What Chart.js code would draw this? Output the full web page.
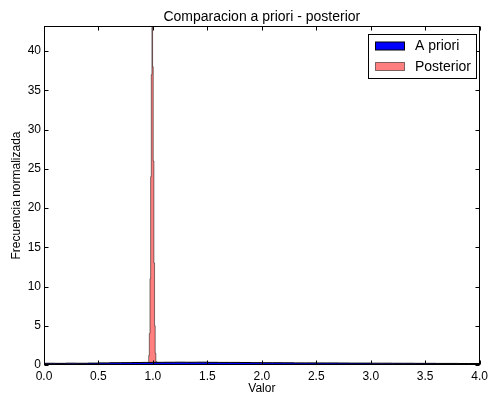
<!DOCTYPE html>
<html>
<head>
<meta charset="utf-8">
<script src="https://cdn.jsdelivr.net/npm/chart.js@4/dist/chart.umd.min.js"></script>
<style>
html, body { margin: 0; padding: 0; background: #fff; }
#wrap { width: 492px; height: 399px; }
</style>
</head>
<body>
<div id="wrap"><canvas id="chart"></canvas></div>
<script>
const chartTitle = "Comparacion a priori - posterior";
const xLabel = "Valor";
const yLabel = "Frecuencia normalizada";
const seriesNames = ["A priori", "Posterior"];

const xTicks = [0, 0.5, 1, 1.5, 2, 2.5, 3, 3.5, 4];
const yTicks = [0, 5, 10, 15, 20, 25, 30, 35, 40];
const yMax = 43.2;

// prior histogram, bins of 0.1 from 0 to 4
const priorStart = 0.0;
const priorWidth = 0.1;
const priorValues = [
    0.20, 0.22, 0.21, 0.23, 0.22, 0.24, 0.27, 0.29, 0.30, 0.32,
    0.33, 0.34, 0.35, 0.36, 0.35, 0.36, 0.34, 0.33, 0.33, 0.32,
    0.30, 0.29, 0.29, 0.28, 0.27, 0.27, 0.26, 0.26, 0.25, 0.24,
    0.24, 0.23, 0.23, 0.22, 0.22, 0.21, 0.21, 0.20, 0.20, 0.19
];

// posterior histogram, narrow bins around 1.0
const posteriorStart = 0.961;
const posteriorWidth = 0.006;
const posteriorValues = [0.3, 1.2, 4, 11, 24, 37, 43.2, 38, 26, 13, 5, 1.5, 0.4];

function histPoints(start, width, values) {
    const pts = [{ x: start, y: 0 }];
    values.forEach((v, i) => pts.push({ x: start + i * width, y: v }));
    const end = start + values.length * width;
    pts.push({ x: end, y: values[values.length - 1] });
    pts.push({ x: end, y: 0 });
    return pts;
}

const FONT = "'Liberation Sans', Arial, Helvetica, sans-serif";

const framePlugin = {
    id: 'frame',
    afterDraw(chart) {
        const ctx = chart.ctx;
        const a = chart.chartArea;
        const xs = chart.scales.x, ys = chart.scales.y;
        const L = Math.round(a.left) + 0.5, R = Math.round(a.right) - 0.5;
        const T = Math.round(a.top) + 0.5, B = Math.round(a.bottom) - 0.5;
        const tick = 4;

        ctx.save();
        ctx.strokeStyle = '#000';
        ctx.lineWidth = 1;
        ctx.beginPath();
        xTicks.forEach(v => {
            const px = Math.round(xs.getPixelForValue(v)) + 0.5;
            ctx.moveTo(px, B); ctx.lineTo(px, B - tick);
            ctx.moveTo(px, T); ctx.lineTo(px, T + tick);
        });
        yTicks.forEach(v => {
            const py = Math.round(ys.getPixelForValue(v)) + 0.5;
            ctx.moveTo(L, py); ctx.lineTo(L + tick, py);
            ctx.moveTo(R, py); ctx.lineTo(R - tick, py);
        });
        ctx.stroke();
        ctx.strokeRect(L, T, R - L, B - T);

        // title
        ctx.fillStyle = '#000';
        ctx.font = `14px ${FONT}`;
        ctx.textAlign = 'center';
        ctx.textBaseline = 'alphabetic';
        ctx.fillText(chartTitle, (a.left + a.right) / 2, 21);

        // legend
        const bx = 368.5, by = 34.5, bw = 108, bh = 44;
        ctx.fillStyle = '#fff';
        ctx.fillRect(bx, by, bw, bh);
        ctx.strokeStyle = '#000';
        ctx.strokeRect(bx, by, bw, bh);
        ctx.font = `14px ${FONT}`;
        ctx.textAlign = 'left';
        ctx.textBaseline = 'middle';
        chart.data.datasets.forEach((ds, i) => {
            const py = by + 7.5 + i * 20.5;
            ctx.fillStyle = '#fff';
            ctx.fillRect(375.5, py, 29, 8);
            ctx.fillStyle = ds.backgroundColor;
            ctx.fillRect(375.5, py, 29, 8);
            ctx.strokeStyle = ds.borderColor;
            ctx.strokeRect(375.5, py, 29, 8);
            ctx.fillStyle = '#000';
            ctx.fillText(ds.label, 415, py + 4.5);
        });
        ctx.restore();
    }
};

new Chart(document.getElementById('chart'), {
    type: 'line',
    data: {
        datasets: [
            {
                label: seriesNames[0],
                data: histPoints(priorStart, priorWidth, priorValues),
                backgroundColor: '#0000ff',
                borderColor: '#000',
                borderWidth: 1,
                fill: 'origin',
                stepped: 'after',
                pointRadius: 0
            },
            {
                label: seriesNames[1],
                data: histPoints(posteriorStart, posteriorWidth, posteriorValues),
                backgroundColor: 'rgba(255, 0, 0, 0.5)',
                borderColor: 'rgba(0, 0, 0, 0.5)',
                borderWidth: 1,
                fill: 'origin',
                stepped: 'after',
                pointRadius: 0
            }
        ]
    },
    options: {
        responsive: true,
        maintainAspectRatio: false,
        animation: false,
        layout: { padding: { top: 26, right: 9, left: 0, bottom: 0 } },
        plugins: {
            legend: { display: false },
            title: { display: false },
            tooltip: { enabled: false }
        },
        scales: {
            x: {
                type: 'linear',
                min: 0,
                max: 4,
                afterBuildTicks: s => { s.ticks = xTicks.map(v => ({ value: v })); },
                afterFit: s => { s.height = 34; },
                grid: { drawOnChartArea: false, drawTicks: false },
                border: { display: false },
                ticks: {
                    autoSkip: false, maxRotation: 0, padding: 4, color: '#000',
                    font: { family: FONT, size: 12 },
                    callback: v => Number(v).toFixed(1)
                },
                title: {
                    display: true, text: xLabel, color: '#000',
                    font: { family: FONT, size: 12 },
                    padding: { top: 0, bottom: 3 }
                }
            },
            y: {
                type: 'linear',
                min: 0,
                max: yMax,
                afterBuildTicks: s => { s.ticks = yTicks.map(v => ({ value: v })); },
                afterFit: s => { s.width = 44; },
                grid: { drawOnChartArea: false, drawTicks: false },
                border: { display: false },
                ticks: {
                    autoSkip: false, padding: 3, color: '#000',
                    font: { family: FONT, size: 12 },
                    callback: v => String(v)
                },
                title: {
                    display: true, text: yLabel, color: '#000',
                    font: { family: FONT, size: 12 },
                    padding: { top: 9, bottom: 0 }
                }
            }
        }
    },
    plugins: [framePlugin]
});
</script>
</body>
</html>
